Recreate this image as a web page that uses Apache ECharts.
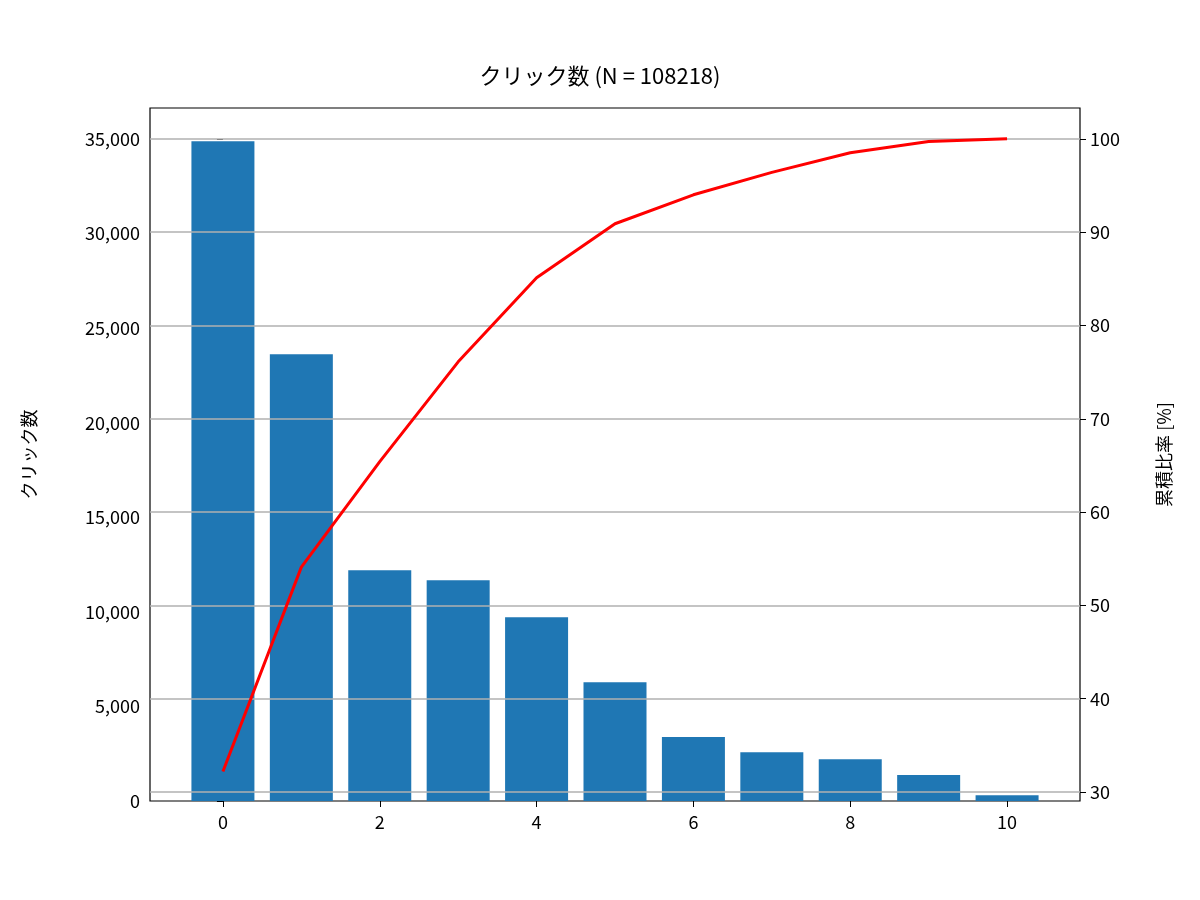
<!DOCTYPE html>
<html>
<head>
<meta charset="utf-8">
<script src="https://cdn.jsdelivr.net/npm/echarts@6/dist/echarts.min.js"></script>
<style>html,body{margin:0;padding:0;background:#fff}#chart{width:1200px;height:900px}</style>
</head>
<body>
<div id="chart"></div>
<script>
// 値は画像から読み取り
var categories = [0, 1, 2, 3, 4, 5, 6, 7, 8, 9, 10];
var clicks = [34880, 23620, 12200, 11670, 9720, 6280, 3380, 2580, 2210, 1370, 310];
var cumRatio = [32.2, 54.1, 65.4, 76.1, 85.1, 90.9, 94.0, 96.4, 98.5, 99.7, 100];
var xTicks = [0, 2, 4, 6, 8, 10];
var rightTicks = [30, 40, 50, 60, 70, 80, 90, 100];

var font = '"Noto Sans CJK JP", "DejaVu Sans", sans-serif';
var barData = [], lineData = [];
for (var i = 0; i < categories.length; i++) {
    barData.push([categories[i], clicks[i]]);
    lineData.push([categories[i], cumRatio[i]]);
}
var gridLines = [];
for (var j = 0; j < rightTicks.length; j++) {
    gridLines.push({yAxis: rightTicks[j]});
}

var chart = echarts.init(document.getElementById('chart'));
var option = {
    animation: false,
    textStyle: {fontFamily: font},
    title: {
        text: 'クリック数 (N = 108218)',
        left: 'center',
        top: 60,
        textStyle: {fontFamily: font, fontSize: 22, fontWeight: 'normal', color: '#000'}
    },
    grid: {left: 150, right: 120, top: 108, bottom: 99, show: true, borderColor: '#000', borderWidth: 1.2, backgroundColor: 'transparent'},
    xAxis: {
        type: 'value', min: -0.93, max: 10.93,
        axisLine: {show: false},
        splitLine: {show: false},
        axisTick: {show: true, customValues: xTicks, length: 6, lineStyle: {color: '#000'}},
        axisLabel: {customValues: xTicks, color: '#000', fontSize: 18, margin: 12, fontFamily: font}
    },
    yAxis: [{
        type: 'value', min: 0, max: 36640, interval: 5000,
        name: 'クリック数', nameLocation: 'middle', nameGap: 112, nameRotate: 90,
        nameTextStyle: {fontSize: 18, color: '#000', fontFamily: font},
        axisLine: {show: false},
        splitLine: {show: false},
        axisTick: {show: true, length: 6, lineStyle: {color: '#000'}},
        axisLabel: {color: '#000', fontSize: 18, margin: 10, fontFamily: font,
            showMaxLabel: false}
    }, {
        type: 'value', min: 29.04, max: 103.3, position: 'right',
        name: '累積比率 [%]', nameLocation: 'middle', nameGap: 75, nameRotate: 90,
        nameTextStyle: {fontSize: 18, color: '#000', fontFamily: font},
        axisLine: {show: false},
        splitLine: {show: false},
        axisTick: {show: true, customValues: rightTicks, length: 6, lineStyle: {color: '#000'}},
        axisLabel: {customValues: rightTicks, color: '#000', fontSize: 18, margin: 10, fontFamily: font}
    }],
    series: [{
        type: 'bar',
        data: barData,
        barWidth: 63,
        itemStyle: {color: '#1f77b4'},
        yAxisIndex: 0
    }, {
        type: 'line',
        data: lineData,
        yAxisIndex: 1,
        symbol: 'none',
        lineStyle: {color: '#ff0000', width: 3},
        z: 5,
        markLine: {
            silent: true, symbol: 'none', label: {show: false},
            lineStyle: {color: '#b0b0b0', width: 1.5, type: 'solid'},
            data: gridLines
        }
    }]
};
chart.setOption(option);
$ = null;
</script>
</body>
</html>
